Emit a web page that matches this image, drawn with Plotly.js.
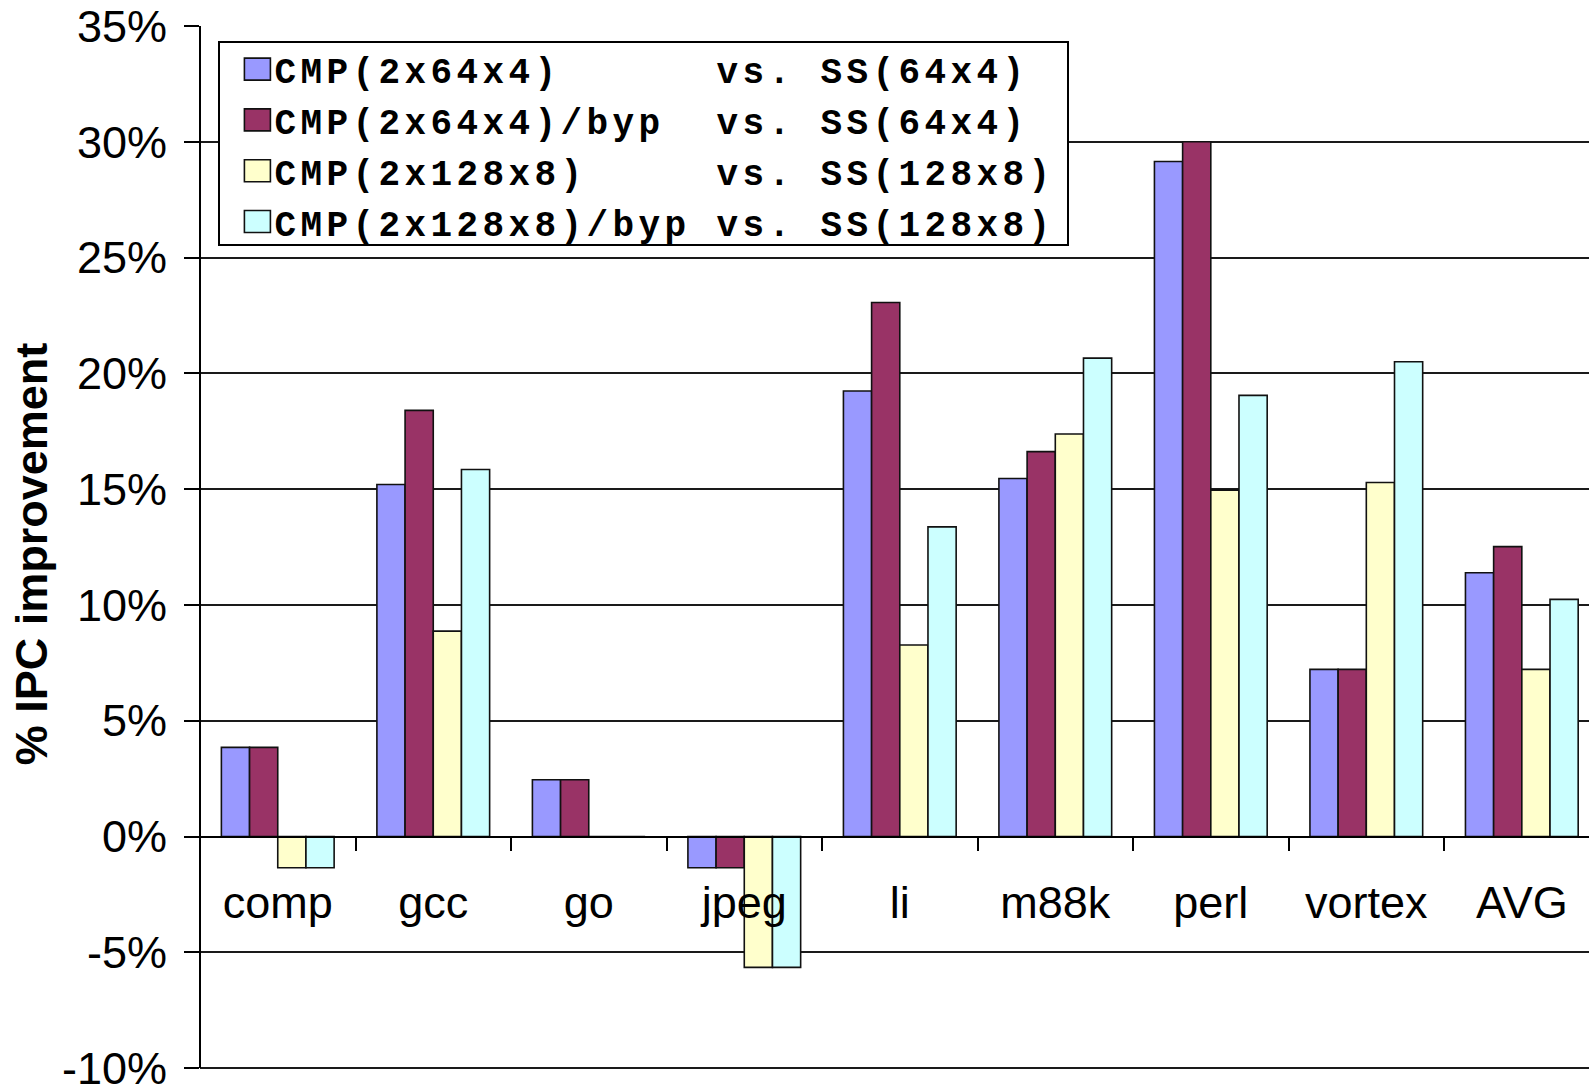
<!DOCTYPE html>
<html>
<head>
<meta charset="utf-8">
<script src="https://cdn.plot.ly/plotly-3.0.1.min.js"></script>
<style>
  html, body { margin: 0; padding: 0; background: #fff; overflow: hidden; }
  #chart { width: 1589px; height: 1086px; }
  /* wide, typewriter-like legend lettering */
  .legendtext { letter-spacing: 4.4px; }
</style>
</head>
<body>
<div id="chart"></div>
<script>
// Benchmarks on the category axis
const categories = ['comp', 'gcc', 'go', 'jpeg', 'li', 'm88k', 'perl', 'vortex', 'AVG'];

// % IPC improvement of each CMP configuration over its superscalar baseline
const cmp64 = [3.85, 15.2, 2.45, -1.35, 19.24, 15.46, 29.15, 7.22, 11.39];
const cmp64Byp = [3.85, 18.4, 2.45, -1.35, 23.06, 16.62, 30.0, 7.22, 12.52];
const cmp128 = [-1.35, 8.87, 0, -5.65, 8.27, 17.38, 14.96, 15.29, 7.22];
const cmp128Byp = [-1.35, 15.85, 0, -5.65, 13.37, 20.66, 19.05, 20.5, 10.24];

// Legend labels: configuration and the baseline it is compared with
const seriesLeft = ['CMP(2x64x4)', 'CMP(2x64x4)/byp', 'CMP(2x128x8)', 'CMP(2x128x8)/byp'];
const seriesRight = ['vs. SS(64x4)', 'vs. SS(64x4)', 'vs. SS(128x8)', 'vs. SS(128x8)'];

// Value axis ticks
const yTickVals = [-10, -5, 0, 5, 10, 15, 20, 25, 30, 35];
const yTickText = ['-10%', '-5%', '0%', '5%', '10%', '15%', '20%', '25%', '30%', '35%'];
// some room below -10% keeps its grid line away from the plot edge
const yRange = [-10.6, 35];

const seriesValues = [cmp64, cmp64Byp, cmp128, cmp128Byp];
const seriesColors = ['#9999FF', '#993366', '#FFFFCC', '#CCFFFF'];

const traces = seriesValues.map((vals, i) => ({
  type: 'bar',
  x: categories,
  y: vals,
  name: seriesLeft[i].padEnd(17, '\u00A0') + seriesRight[i].replace(' ', '\u00A0'),
  legendgroup: 'g' + i,
  marker: { color: seriesColors[i], line: { color: '#111', width: 1.6 } },
  hoverinfo: 'skip'
}));

const layout = {
  width: 1589,
  height: 1086,
  margin: { l: 200, r: 0, t: 26, b: 4, pad: 0 },
  paper_bgcolor: '#fff',
  plot_bgcolor: '#fff',
  barmode: 'group',
  bargap: 0.275,
  bargroupgap: 0,
  showlegend: true,
  font: { family: 'Liberation Sans, Arial, sans-serif', color: '#000' },
  xaxis: {
    type: 'category',
    range: [-0.5, 8.432],
    anchor: 'free',
    position: (0 - yRange[0]) / (yRange[1] - yRange[0]),
    showline: true,
    linecolor: '#000',
    linewidth: 2,
    showgrid: false,
    zeroline: false,
    tickson: 'boundaries',
    ticks: 'outside',
    ticklen: 13,
    tickwidth: 2,
    tickcolor: '#000',
    ticklabelstandoff: 26,
    tickfont: { family: 'Liberation Sans, Arial, sans-serif', size: 45, color: '#000' },
    fixedrange: true
  },
  yaxis: {
    range: yRange,
    tickmode: 'array',
    tickvals: yTickVals,
    ticktext: yTickText,
    ticklabeloverflow: 'allow',
    showline: false,
    showgrid: true,
    gridcolor: '#1a1a1a',
    gridwidth: 2,
    zeroline: true,
    zerolinecolor: '#000',
    zerolinewidth: 2,
    ticks: 'outside',
    ticklen: 15,
    tickwidth: 2,
    tickcolor: '#000',
    ticklabelstandoff: 8,
    tickfont: { family: 'Liberation Sans, Arial, sans-serif', size: 45, color: '#000' },
    title: {
      text: '% IPC improvement',
      font: { family: 'Liberation Sans, Arial, sans-serif', size: 45, weight: 'bold', color: '#000' },
      standoff: 0
    },
    fixedrange: true
  },
  // value axis line running from the top grid line down to -10%
  shapes: [{
    type: 'line', xref: 'paper', yref: 'y',
    x0: 0, x1: 0, y0: yTickVals[0], y1: yTickVals[yTickVals.length - 1],
    line: { color: '#000', width: 2 }
  }],
  legend: {
    x: 0.01325,
    y: 0.9856,
    xanchor: 'left',
    yanchor: 'top',
    bgcolor: '#fff',
    bordercolor: '#000',
    borderwidth: 2,
    traceorder: 'grouped',
    tracegroupgap: 1,
    itemwidth: 44,
    itemclick: false,
    itemdoubleclick: false,
    font: { family: 'Liberation Mono, Courier New, monospace', size: 36, weight: 'bold', color: '#000' }
  }
};

Plotly.newPlot('chart', traces, layout, { displayModeBar: false, staticPlot: true }).then(gd => {
  // larger square colour swatches in the legend, set a little to the right
  gd.querySelectorAll('.legend .legendpoints path').forEach(p => {
    p.setAttribute('d', 'M23,11H-3V-11H23Z');
  });
  // tighter rows and a little more room on the right of the legend box
  gd.querySelectorAll('.legend .traces').forEach(t => {
    const m = /translate\(([-\d.]+),\s*([-\d.]+)\)/.exec(t.getAttribute('transform') || '');
    if (m) t.setAttribute('transform', 'translate(' + m[1] + ',' + (parseFloat(m[2]) - 4) + ')');
  });
  const bg = gd.querySelector('.legend rect.bg');
  if (bg) {
    bg.setAttribute('height', parseFloat(bg.getAttribute('height')) - 12);
    bg.setAttribute('width', parseFloat(bg.getAttribute('width')) + 7);
  }
  gd.querySelectorAll('.legend clipPath rect, defs .legendclip rect').forEach(r => {
    r.setAttribute('width', parseFloat(r.getAttribute('width')) + 7);
  });
});
</script>
</body>
</html>
